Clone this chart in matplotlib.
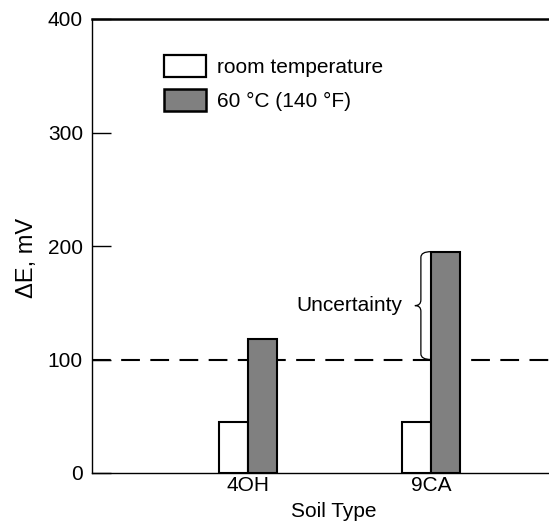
import numpy as np
import matplotlib.pyplot as plt
from matplotlib.patches import Patch, PathPatch
from matplotlib.path import Path

plt.rcParams['font.family'] = ['Liberation Sans', 'DejaVu Sans']

soil_types = ['4OH', '9CA']
room_temp = [45, 45]
hot_60c = [118, 195]
threshold = 100

bar_w = 0.158
x = np.arange(len(soil_types))

fig = plt.figure(figsize=(5.49, 5.25), dpi=100)
ax = fig.add_axes([92/549, 52/525, 457/549, 454/525])

ax.bar(x - bar_w/2, room_temp, bar_w, color='white', edgecolor='black', linewidth=1.5, zorder=3)
ax.bar(x + bar_w/2, hot_60c, bar_w, color='#808080', edgecolor='black', linewidth=1.5, zorder=3)

# reference line
ax.axhline(threshold, color='black', linewidth=1.5, dashes=(9, 5), zorder=2)


# curly brace on the 9CA bar, tip pointing left
def brace(ax, xs, y0, y1, d=0.055, tip=0.033, r=5):
    ym = (y0 + y1) / 2
    verts = [(xs + d, y1), (xs, y1), (xs, y1 - r),
             (xs, ym + r), (xs, ym), (xs - tip, ym),
             (xs, ym), (xs, ym - r),
             (xs, y0 + r), (xs, y0), (xs + d, y0)]
    codes = [Path.MOVETO, Path.CURVE3, Path.CURVE3,
             Path.LINETO, Path.CURVE3, Path.CURVE3,
             Path.CURVE3, Path.CURVE3,
             Path.LINETO, Path.CURVE3, Path.CURVE3]
    ax.add_patch(PathPatch(Path(verts, codes), fill=False, lw=0.9, color='black', zorder=4))


brace(ax, x[1] - 0.055, threshold, hot_60c[1])
ax.text(x[1] - 0.155, (threshold + hot_60c[1]) / 2, 'Uncertainty', ha='right', va='center', fontsize=15)

ax.set_xlim(-0.852, 1.645)
ax.set_ylim(0, 400)
ax.set_yticks([0, 100, 200, 300, 400])
ax.set_xticks(x)
ax.set_xticklabels(soil_types)
ax.tick_params(axis='y', direction='in', length=14, width=1, pad=6.5, labelsize=15)
ax.tick_params(axis='x', length=0, pad=2, labelsize=15)
ax.spines['right'].set_visible(False)
for sp in ['left', 'top', 'bottom']:
    ax.spines[sp].set_linewidth(1.0)
ax.spines['top'].set_linewidth(1.8)

ax.set_xlabel('Soil Type', fontsize=15, va='center')
ax.xaxis.set_label_coords(0.529, -0.085)
ax.set_ylabel('ΔE, mV', fontsize=17, va='center')
ax.yaxis.set_label_coords(-0.142, 0.474)

handles = [Patch(facecolor='white', edgecolor='black', linewidth=1.6),
           Patch(facecolor='#808080', edgecolor='black', linewidth=1.8)]
ax.legend(handles, ['room temperature', '60 °C (140 °F)'], loc='upper left',
          bbox_to_anchor=(0.157, 0.921), frameon=False, fontsize=15,
          handlelength=2.05, handleheight=1.25, labelspacing=0.6,
          handletextpad=0.52, borderpad=0, borderaxespad=0)

fig.savefig('out.png', dpi=100)
